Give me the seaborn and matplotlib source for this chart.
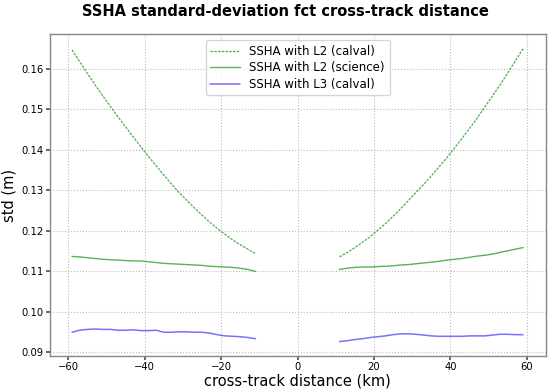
import numpy as np
import pandas as pd
import matplotlib
matplotlib.use("Agg")
import matplotlib.pyplot as plt
import seaborn as sns

# cross-track distance (km), left and right swaths
x_left = [-59, -57, -55, -53, -51, -49, -47, -45, -43, -41, -39, -37, -35,
          -33, -31, -29, -27, -25, -23, -21, -19, -17, -15, -13, -11]
x_right = [11, 13, 15, 17, 19, 21, 23, 25, 27, 29, 31, 33, 35,
           37, 39, 41, 43, 45, 47, 49, 51, 53, 55, 57, 59]

l2_calval_left = [0.1647, 0.1618, 0.1589, 0.1561, 0.1534, 0.1508, 0.1482, 0.1457,
                  0.1432, 0.1408, 0.1384, 0.1361, 0.1338, 0.1316, 0.1295, 0.1276,
                  0.1257, 0.1239, 0.1222, 0.1206, 0.1192, 0.1178, 0.1166, 0.1155, 0.1144]
l2_calval_right = [0.1136, 0.1147, 0.1159, 0.1172, 0.1186, 0.1202, 0.1218, 0.1236,
                   0.1255, 0.1275, 0.1295, 0.1315, 0.1336, 0.1358, 0.1380, 0.1404,
                   0.1428, 0.1453, 0.1479, 0.1506, 0.1533, 0.1561, 0.1590, 0.1620, 0.1650]

l2_science_left = [0.1137, 0.1136, 0.1134, 0.1132, 0.1130, 0.1129, 0.1128, 0.1127,
                   0.1126, 0.1126, 0.1124, 0.1122, 0.1120, 0.1119, 0.1118, 0.1117,
                   0.1116, 0.1115, 0.1113, 0.1112, 0.1111, 0.1110, 0.1108, 0.1105, 0.1100]
l2_science_right = [0.1105, 0.1108, 0.1110, 0.1111, 0.1111, 0.1112, 0.1113, 0.1114,
                    0.1116, 0.1117, 0.1119, 0.1121, 0.1123, 0.1125, 0.1128, 0.1130,
                    0.1132, 0.1135, 0.1138, 0.1140, 0.1143, 0.1147, 0.1151, 0.1155, 0.1159]

l3_calval_left = [0.0950, 0.0955, 0.0957, 0.0958, 0.0957, 0.0957, 0.0955, 0.0955,
                  0.0956, 0.0954, 0.0954, 0.0955, 0.0950, 0.0950, 0.0951, 0.0951,
                  0.0950, 0.0950, 0.0948, 0.0944, 0.0941, 0.0940, 0.0939, 0.0937, 0.0934]
l3_calval_right = [0.0927, 0.0929, 0.0932, 0.0934, 0.0937, 0.0939, 0.0941, 0.0944,
                   0.0946, 0.0946, 0.0945, 0.0943, 0.0941, 0.0940, 0.0940, 0.0940,
                   0.0940, 0.0941, 0.0941, 0.0941, 0.0943, 0.0945, 0.0945, 0.0944, 0.0944]

labels = ["SSHA with L2 (calval)", "SSHA with L2 (science)", "SSHA with L3 (calval)"]

sns.set_theme(style="white")
plt.rcParams['font.family'] = ['DejaVu Sans']
plt.rcParams['text.color'] = 'black'
plt.rcParams['axes.labelcolor'] = 'black'
plt.rcParams['xtick.color'] = 'black'
plt.rcParams['ytick.color'] = 'black'

fig = plt.figure(figsize=(5.5, 3.91), dpi=100)
ax = fig.add_axes([0.09, 0.089, 0.902, 0.824])

styles = [
    dict(color="#2ca02c", linestyle=(0, (2, 1)), linewidth=0.9, alpha=0.85),
    dict(color="#2ca02c", linestyle="-", linewidth=1.0, alpha=0.8),
    dict(color="#0000ff", linestyle="-", linewidth=1.1, alpha=0.55),
]
series = [
    (l2_calval_left, l2_calval_right),
    (l2_science_left, l2_science_right),
    (l3_calval_left, l3_calval_right),
]

for lab, (yl, yr), st in zip(labels, series, styles):
    dfl = pd.DataFrame({"x": x_left, "y": yl})
    dfr = pd.DataFrame({"x": x_right, "y": yr})
    sns.lineplot(data=dfl, x="x", y="y", ax=ax, label=lab, **st)
    sns.lineplot(data=dfr, x="x", y="y", ax=ax, **st)

ax.set_xticks([-60, -40, -20, 0, 20, 40, 60])
ax.set_yticks([0.09, 0.10, 0.11, 0.12, 0.13, 0.14, 0.15, 0.16])
ax.set_yticklabels(["0.09", "0.10", "0.11", "0.12", "0.13", "0.14", "0.15", "0.16"])
ax.tick_params(labelsize=7.2, length=3, pad=1.5, color="#555555", left=True, bottom=True)
ax.grid(True, linestyle=":", color="#bbbbbb", linewidth=0.8)
for s in ax.spines.values():
    s.set_color("#888888")
    s.set_linewidth(1.0)

ax.set_xlabel("cross-track distance (km)", fontsize=10.5, labelpad=1)
ax.set_ylabel("std (m)", fontsize=10.5, labelpad=3)
ax.set_title("SSHA standard-deviation fct cross-track distance", fontsize=10.5,
             fontweight="bold", pad=13, x=0.476)
ax.legend(loc="upper center", fontsize=8.5, frameon=True, handlelength=2.5,
          borderpad=0.4, labelspacing=0.3)

fig.savefig("out.png", dpi=100)
